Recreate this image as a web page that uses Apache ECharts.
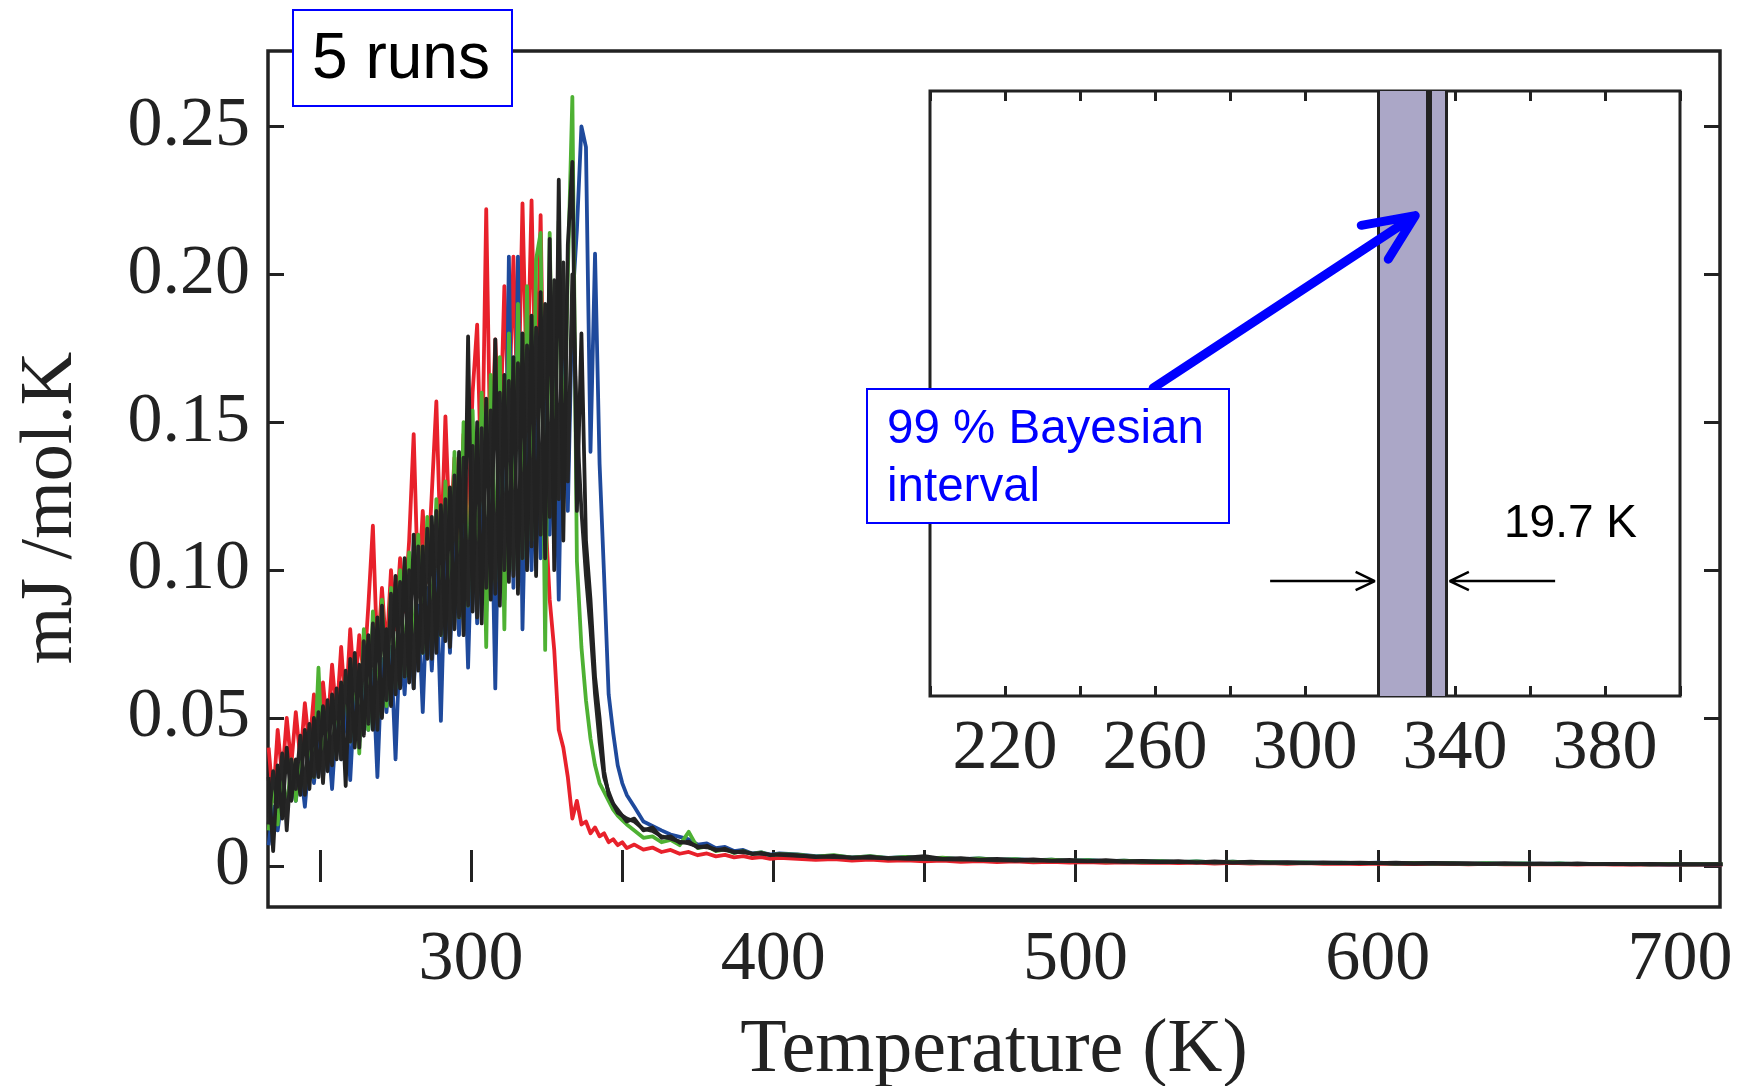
<!DOCTYPE html>
<html>
<head>
<meta charset="utf-8">
<title>5 runs</title>
<script src="https://cdn.jsdelivr.net/npm/echarts@6.0.0/dist/echarts.min.js"></script>
<style>
  html, body { margin: 0; padding: 0; background: #fff; }
  #main { width: 1738px; height: 1086px; }
</style>
</head>
<body>
<div id="main"></div>
<script>
// sampling of the traces (K): noisy part, fall-off, tail
var tA0 = 233, tAStep = 1.5;
var tB0 = 354, tBStep = 3;
var tC0 = 408, tCStep = 6;

// run 1 (red)
var redA = [0.040, 0.022, 0.046, 0.030, 0.050, 0.034, 0.052, 0.036, 0.055, 0.040,
    0.058, 0.042, 0.062, 0.046, 0.068, 0.050, 0.074, 0.052, 0.080, 0.058,
    0.078, 0.064, 0.088, 0.115, 0.070, 0.094, 0.072, 0.100, 0.080, 0.104,
    0.086, 0.110, 0.146, 0.092, 0.120, 0.096, 0.126, 0.157, 0.104, 0.152,
    0.110, 0.138, 0.108, 0.146, 0.116, 0.160, 0.183, 0.124, 0.222, 0.130,
    0.178, 0.140, 0.196, 0.150, 0.206, 0.148, 0.224, 0.158, 0.225, 0.150,
    0.220, 0.120, 0.090, 0.073, 0.046, 0.040, 0.030, 0.016, 0.022, 0.014,
    0.015, 0.011, 0.013, 0.010, 0.011, 0.008, 0.009, 0.007, 0.008, 0.006];
var redB = [0.0072, 0.0055, 0.0062, 0.0047, 0.0054, 0.0041, 0.0047, 0.0036, 0.0042,
    0.0032, 0.0037, 0.0029, 0.0033, 0.0026, 0.0030, 0.0024, 0.0027];
var redC = [0.0024, 0.0020, 0.0023, 0.0018, 0.0021, 0.0017, 0.0019, 0.0015, 0.0018, 0.0014,
    0.0016, 0.0013, 0.0015, 0.0012, 0.0014, 0.0011, 0.0013, 0.0010, 0.0012, 0.0010,
    0.0011, 0.0009, 0.0011, 0.0008, 0.0010, 0.0008, 0.0009, 0.0007, 0.0009, 0.0007,
    0.0008, 0.0006, 0.0008, 0.0006, 0.0007, 0.0006, 0.0007, 0.0005, 0.0007, 0.0005,
    0.0006, 0.0005, 0.0006, 0.0004, 0.0006, 0.0004, 0.0005, 0.0004, 0.0005, 0.0004,
    0.0005, 0.0004];

// run 2 (blue)
var blueA = [0.007, 0.020, 0.012, 0.024, 0.018, 0.030, 0.022, 0.034, 0.020, 0.038,
    0.028, 0.042, 0.030, 0.046, 0.026, 0.050, 0.036, 0.054, 0.029, 0.058,
    0.042, 0.062, 0.046, 0.066, 0.030, 0.070, 0.052, 0.074, 0.036, 0.078,
    0.058, 0.084, 0.060, 0.088, 0.052, 0.094, 0.066, 0.100, 0.049, 0.106,
    0.072, 0.110, 0.078, 0.116, 0.067, 0.122, 0.082, 0.130, 0.086, 0.138,
    0.060, 0.146, 0.090, 0.206, 0.094, 0.206, 0.080, 0.150, 0.100, 0.156,
    0.104, 0.164, 0.112, 0.170, 0.090, 0.176, 0.120, 0.190, 0.215, 0.250,
    0.243, 0.140, 0.207, 0.136, 0.098, 0.058, 0.045, 0.034, 0.028, 0.024];
var blueB = [0.0200, 0.0150, 0.0135, 0.0120, 0.0106, 0.0098, 0.0090, 0.0072, 0.0076,
    0.0060, 0.0064, 0.0050, 0.0054, 0.0042, 0.0046, 0.0038, 0.0042];
var blueC = [0.0039, 0.0033, 0.0035, 0.0029, 0.0032, 0.0027, 0.0030, 0.0025, 0.0027, 0.0023,
    0.0025, 0.0021, 0.0023, 0.0019, 0.0021, 0.0017, 0.0020, 0.0016, 0.0018, 0.0015,
    0.0016, 0.0013, 0.0015, 0.0012, 0.0014, 0.0011, 0.0013, 0.0011, 0.0012, 0.0010,
    0.0011, 0.0009, 0.0011, 0.0008, 0.0010, 0.0008, 0.0009, 0.0007, 0.0009, 0.0007,
    0.0008, 0.0007, 0.0008, 0.0006, 0.0007, 0.0006, 0.0007, 0.0005, 0.0006, 0.0005,
    0.0006, 0.0005];

// run 3 (green)
var greenA = [0.012, 0.028, 0.014, 0.032, 0.018, 0.036, 0.022, 0.040, 0.026, 0.044,
    0.030, 0.067, 0.032, 0.050, 0.036, 0.056, 0.040, 0.064, 0.042, 0.070,
    0.038, 0.080, 0.046, 0.086, 0.050, 0.090, 0.054, 0.094, 0.060, 0.100,
    0.064, 0.106, 0.068, 0.112, 0.072, 0.118, 0.076, 0.124, 0.078, 0.130,
    0.080, 0.140, 0.084, 0.150, 0.088, 0.154, 0.090, 0.160, 0.074, 0.166,
    0.096, 0.172, 0.080, 0.180, 0.100, 0.190, 0.104, 0.196, 0.110, 0.205,
    0.214, 0.073, 0.214, 0.120, 0.218, 0.130, 0.200, 0.260, 0.103, 0.074,
    0.056, 0.043, 0.034, 0.028, 0.025, 0.022, 0.019, 0.017, 0.0155, 0.014];
var greenB = [0.0120, 0.0095, 0.0100, 0.0080, 0.0088, 0.0070, 0.0115, 0.0060, 0.0066,
    0.0050, 0.0056, 0.0044, 0.0050, 0.0040, 0.0046, 0.0036, 0.0040];
var greenC = [0.0038, 0.0031, 0.0036, 0.0028, 0.0033, 0.0026, 0.0030, 0.0024, 0.0028, 0.0022,
    0.0025, 0.0020, 0.0023, 0.0018, 0.0021, 0.0017, 0.0019, 0.0015, 0.0018, 0.0014,
    0.0016, 0.0013, 0.0015, 0.0012, 0.0014, 0.0011, 0.0013, 0.0010, 0.0012, 0.0009,
    0.0011, 0.0009, 0.0010, 0.0008, 0.0010, 0.0008, 0.0009, 0.0007, 0.0009, 0.0007,
    0.0008, 0.0006, 0.0008, 0.0006, 0.0007, 0.0006, 0.0007, 0.0005, 0.0007, 0.0005,
    0.0006, 0.0006];

// run 4 (black)
var blackA = [0.030, 0.005, 0.034, 0.016, 0.040, 0.022, 0.036, 0.024, 0.046, 0.026,
    0.050, 0.030, 0.054, 0.032, 0.058, 0.036, 0.062, 0.027, 0.070, 0.040,
    0.068, 0.044, 0.078, 0.046, 0.084, 0.050, 0.080, 0.054, 0.098, 0.060,
    0.104, 0.062, 0.112, 0.066, 0.108, 0.070, 0.118, 0.072, 0.122, 0.076,
    0.128, 0.080, 0.140, 0.078, 0.179, 0.086, 0.150, 0.082, 0.158, 0.090,
    0.178, 0.088, 0.166, 0.096, 0.172, 0.092, 0.180, 0.100, 0.186, 0.098,
    0.194, 0.104, 0.212, 0.100, 0.232, 0.110, 0.210, 0.238, 0.120, 0.180,
    0.110, 0.090, 0.064, 0.050, 0.032, 0.024, 0.021, 0.018, 0.017, 0.015];
var blackB = [0.0160, 0.0120, 0.0130, 0.0095, 0.0100, 0.0078, 0.0082, 0.0062, 0.0068,
    0.0052, 0.0058, 0.0045, 0.0050, 0.0040, 0.0044, 0.0036, 0.0040];
var blackC = [0.0036, 0.0030, 0.0034, 0.0027, 0.0031, 0.0025, 0.0028, 0.0033, 0.0024, 0.0026,
    0.0021, 0.0024, 0.0019, 0.0022, 0.0018, 0.0020, 0.0016, 0.0019, 0.0015, 0.0017,
    0.0014, 0.0016, 0.0012, 0.0015, 0.0012, 0.0014, 0.0011, 0.0013, 0.0010, 0.0012,
    0.0010, 0.0011, 0.0009, 0.0011, 0.0008, 0.0010, 0.0008, 0.0009, 0.0007, 0.0009,
    0.0007, 0.0008, 0.0006, 0.0008, 0.0006, 0.0007, 0.0005, 0.0007, 0.0005, 0.0006,
    0.0005, 0.0006];

// run 5 (black, under run 4)
var darkA = [0.014, 0.032, 0.020, 0.038, 0.012, 0.036, 0.026, 0.044, 0.024, 0.048,
    0.030, 0.052, 0.028, 0.056, 0.034, 0.060, 0.036, 0.066, 0.042, 0.072,
    0.040, 0.076, 0.048, 0.082, 0.046, 0.088, 0.056, 0.092, 0.058, 0.096,
    0.064, 0.100, 0.060, 0.108, 0.072, 0.114, 0.070, 0.120, 0.078, 0.124,
    0.074, 0.132, 0.084, 0.138, 0.088, 0.142, 0.084, 0.148, 0.094, 0.154,
    0.092, 0.160, 0.100, 0.164, 0.098, 0.170, 0.104, 0.176, 0.108, 0.182,
    0.112, 0.190, 0.118, 0.198, 0.124, 0.204, 0.130, 0.200, 0.150, 0.120,
    0.098, 0.080, 0.058, 0.042, 0.030, 0.025, 0.021, 0.019, 0.017, 0.016];
var darkB = [0.0150, 0.0125, 0.0118, 0.0100, 0.0092, 0.0082, 0.0076, 0.0066, 0.0063,
    0.0056, 0.0053, 0.0048, 0.0046, 0.0042, 0.0041, 0.0038, 0.0037];
var darkC = [0.0034, 0.0031, 0.0030, 0.0028, 0.0027, 0.0026, 0.0024, 0.0023, 0.0022, 0.0021,
    0.0020, 0.0019, 0.0018, 0.0018, 0.0017, 0.0016, 0.0015, 0.0015, 0.0014, 0.0014,
    0.0013, 0.0013, 0.0012, 0.0012, 0.0011, 0.0011, 0.0011, 0.0010, 0.0010, 0.0010,
    0.0009, 0.0009, 0.0009, 0.0008, 0.0008, 0.0008, 0.0008, 0.0007, 0.0007, 0.0007,
    0.0007, 0.0007, 0.0006, 0.0006, 0.0006, 0.0006, 0.0006, 0.0005, 0.0005, 0.0005,
    0.0005, 0.0005];

// axes ticks / labels
var xTicks = [250, 300, 350, 400, 450, 500, 550, 600, 650, 700];
var xLabels = [300, 400, 500, 600, 700];
var yTicks = [0, 0.05, 0.10, 0.15, 0.20, 0.25];
var insetLabels = [220, 260, 300, 340, 380];

// inset: 99 % Bayesian interval (K)
var intervalLow = 319.6, intervalHigh = 337.6, intervalMode = 333.1;

var serif = '"Liberation Serif", "Times New Roman", serif';
var sans = '"Liberation Sans", Arial, sans-serif';
var ink = '#222';

function pairs(vals, t0, step) {
    return vals.map(function (v, i) { return [t0 + i * step, v]; });
}
function run(a, b, c) {
    return pairs(a, tA0, tAStep).concat(pairs(b, tB0, tBStep), pairs(c, tC0, tCStep));
}
function traceSeries(name, color, data) {
    return {
        name: name, type: 'line', xAxisIndex: 0, yAxisIndex: 0,
        symbol: 'none', silent: true, data: data,
        lineStyle: { color: color, width: 3.8, join: 'round' }
    };
}

var myChart = echarts.init(document.getElementById('main'));

var tickStyle = { color: ink, width: 3 };

var option = {
    animation: false,
    backgroundColor: '#fff',
    grid: [
        { left: 268, right: 18, top: 51, bottom: 179, show: true, outerBoundsMode: 'none',
          borderColor: ink, borderWidth: 3.5, backgroundColor: 'transparent' },
        { left: 930, right: 58, top: 91, bottom: 390, show: true, outerBoundsMode: 'none',
          borderColor: ink, borderWidth: 3, backgroundColor: '#fff' }
    ],
    xAxis: [
        { gridIndex: 0, type: 'value', min: 232.8, max: 713.2,
          axisLine: { show: false }, splitLine: { show: false },
          axisTick: { inside: true, length: 16, lineStyle: tickStyle, customValues: xTicks },
          axisLabel: { customValues: xLabels, fontFamily: serif, fontSize: 70, color: ink, margin: 19 },
          name: 'Temperature (K)', nameLocation: 'middle', nameGap: 106,
          nameTextStyle: { fontFamily: serif, fontSize: 76, color: ink } },
        { gridIndex: 0, type: 'value', position: 'top', min: 232.8, max: 713.2,
          axisLine: { show: false }, splitLine: { show: false },
          axisTick: { inside: true, length: 16, lineStyle: tickStyle, customValues: xTicks },
          axisLabel: { show: false } },
        { gridIndex: 1, type: 'value', min: 200, max: 400, interval: 20,
          axisLine: { show: false }, splitLine: { show: false },
          axisTick: { inside: true, length: 10, lineStyle: tickStyle },
          axisLabel: { customValues: insetLabels, fontFamily: serif, fontSize: 70, color: ink, margin: 19 } },
        { gridIndex: 1, type: 'value', position: 'top', min: 200, max: 400, interval: 20,
          axisLine: { show: false }, splitLine: { show: false },
          axisTick: { inside: true, length: 10, lineStyle: tickStyle },
          axisLabel: { show: false } }
    ],
    yAxis: [
        { gridIndex: 0, type: 'value', min: -0.0139, max: 0.2755,
          axisLine: { show: false }, splitLine: { show: false },
          axisTick: { inside: true, length: 16, lineStyle: tickStyle, customValues: yTicks },
          axisLabel: { customValues: yTicks, fontFamily: serif, fontSize: 70, color: ink, margin: 18,
              formatter: function (v) { return v === 0 ? '0' : v.toFixed(2); } } },
        { gridIndex: 0, type: 'value', position: 'right', min: -0.0139, max: 0.2755,
          axisLine: { show: false }, splitLine: { show: false },
          axisTick: { inside: true, length: 16, lineStyle: tickStyle, customValues: yTicks },
          axisLabel: { show: false } },
        { gridIndex: 1, type: 'value', min: 0, max: 1, show: false }
    ],
    series: [
        traceSeries('run 1', '#e8212b', run(redA, redB, redC)),
        traceSeries('run 2', '#1f4a9c', run(blueA, blueB, blueC)),
        traceSeries('run 3', '#4eb133', run(greenA, greenB, greenC)),
        traceSeries('run 5', '#262626', run(darkA, darkB, darkC)),
        traceSeries('run 4', '#222222', run(blackA, blackB, blackC)),
        {
            name: 'interval', type: 'line', xAxisIndex: 2, yAxisIndex: 2,
            symbol: 'none', silent: true, data: [],
            markArea: {
                silent: true,
                itemStyle: { color: '#aba7c7' },
                data: [[{ xAxis: intervalLow }, { xAxis: intervalHigh }]]
            },
            markLine: {
                silent: true, symbol: 'none', label: { show: false },
                lineStyle: { color: ink, type: 'solid', width: 3 },
                data: [
                    { xAxis: intervalLow },
                    { xAxis: intervalMode, lineStyle: { width: 6, color: ink, type: 'solid' } },
                    { xAxis: intervalHigh }
                ]
            }
        },
        {
            // width arrows
            name: 'left arrow', type: 'line', xAxisIndex: 2, yAxisIndex: 2,
            symbol: 'none', silent: true, z: 4,
            lineStyle: { color: '#000', width: 2.5 },
            data: [[290.7, 0.19], [intervalLow - 1, 0.19], [intervalLow - 6.1, 0.205],
                [intervalLow - 1, 0.19], [intervalLow - 6.1, 0.175]]
        },
        {
            name: 'right arrow', type: 'line', xAxisIndex: 2, yAxisIndex: 2,
            symbol: 'none', silent: true, z: 4,
            lineStyle: { color: '#000', width: 2.5 },
            data: [[366.7, 0.19], [intervalHigh + 1, 0.19], [intervalHigh + 6.1, 0.205],
                [intervalHigh + 1, 0.19], [intervalHigh + 6.1, 0.175]]
        },
        {
            name: 'pointer', type: 'line', xAxisIndex: 2, yAxisIndex: 2,
            symbol: 'none', silent: true, z: 5,
            lineStyle: { color: '#0000ff', width: 9, cap: 'round', join: 'round' },
            data: [[259.5, 0.509], [329.4, 0.794], [315.0, 0.778], [329.4, 0.794], [322.2, 0.722]]
        }
    ],
    graphic: [
        { type: 'rect', z: 100, shape: { x: 293, y: 10, width: 219, height: 96 },
          style: { fill: '#fff', stroke: '#0000ff', lineWidth: 2 } },
        { type: 'text', z: 101, x: 401, y: 60,
          style: { text: '5 runs', font: '64px ' + sans, fill: '#000', align: 'center', verticalAlign: 'middle' } },
        { type: 'rect', z: 100, shape: { x: 867, y: 389, width: 362, height: 134 },
          style: { fill: '#fff', stroke: '#0000ff', lineWidth: 2 } },
        { type: 'text', z: 101, x: 887, y: 430,
          style: { text: '99 % Bayesian', font: '47.5px ' + sans, fill: '#0000ff', verticalAlign: 'middle' } },
        { type: 'text', z: 101, x: 887, y: 488,
          style: { text: 'interval', font: '47.5px ' + sans, fill: '#0000ff', verticalAlign: 'middle' } },
        { type: 'text', z: 101, x: 1504, y: 524,
          style: { text: '19.7 K', font: '46px ' + sans, fill: '#000', verticalAlign: 'middle' } },
        { type: 'text', z: 101, x: 52, y: 508, rotation: Math.PI / 2,
          style: { text: 'mJ /mol.K', font: '74px ' + serif, fill: ink, align: 'center', verticalAlign: 'middle' } }
    ]
};

myChart.setOption(option);
</script>
</body>
</html>
